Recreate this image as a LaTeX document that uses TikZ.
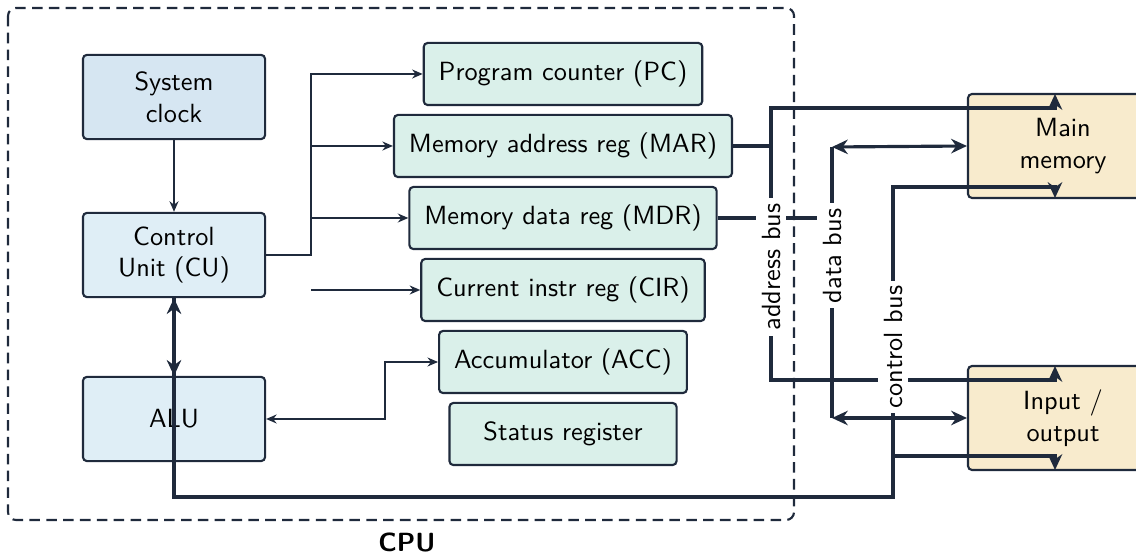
\documentclass[tikz,border=0pt]{standalone}
\usepackage{tikz}
\usepackage{xcolor}
\usetikzlibrary{arrows.meta}
\definecolor{edgec}{HTML}{1F2A3C}
\definecolor{clockfill}{HTML}{D6E6F2}
\definecolor{unitfill}{HTML}{DFEEF6}
\definecolor{regfill}{HTML}{DAF0EA}
\definecolor{memfill}{HTML}{F8EBCD}
\tikzset{every node/.style={font=\sffamily},
 unit/.style={draw=edgec, fill=unitfill, rounded corners=1.5pt, line width=.8pt,
   minimum width=69.2pt, minimum height=32pt, align=center},
 reg/.style={draw=edgec, fill=regfill, rounded corners=1.5pt, line width=.8pt,
   inner xsep=5.7pt, minimum height=23.6pt},
 mem/.style={draw=edgec, fill=memfill, rounded corners=1.5pt, line width=.8pt,
   minimum width=72.2pt, minimum height=39.5pt, align=center},
 wire/.style={draw=edgec, line width=.75pt, -{Stealth[length=4pt,width=3.4pt]}},
 wireboth/.style={wire, {Stealth[length=4pt,width=3.4pt]}-{Stealth[length=4pt,width=3.4pt]}},
 bus/.style={draw=edgec, line width=1.2pt},
 busarrow/.style={bus, -{Stealth[length=6pt,width=5.5pt]}},
 busboth/.style={bus, {Stealth[length=6pt,width=5.5pt]}-{Stealth[length=6pt,width=5.5pt]}},
 buslabel/.style={fill=white, inner sep=2pt, rotate=90},
 }

\begin{document}
\begin{tikzpicture}[x=0.38pt, y=-0.38pt]
        \useasboundingbox (0,0) rectangle (1136,555);
        \draw[edgec, line width=.8pt, dash pattern=on 4pt off 2.4pt, rounded corners=3pt]
            (8,8) rectangle (794,520);
        \node[font=\sffamily\bfseries] (cpu) at (407,543) {CPU};

        \node[unit, fill=clockfill] (clock) at (174,97) {System\\clock};
        \node[unit] (cu) at (174,255) {Control\\Unit (CU)};
        \node[unit] (alu) at (174,419) {ALU};

        \foreach \n/\t [count=\i from 0] in {pc/{Program counter (PC)},
            mar/{Memory address reg (MAR)}, mdr/{Memory data reg (MDR)},
            cir/{Current instr reg (CIR)}, acc/{Accumulator (ACC)}} {
            \node[reg] (\n) at (563, 74+72*\i) {\t};
        }
        \node[reg, minimum width=86.3pt] (sr) at (563,434) {Status register};

        \node[mem] (mm) at (1063,146) {Main\\memory};
        \node[mem] (io) at (1063,418) {Input /\\output};

        \coordinate (split) at (311,255);
        \coordinate (cirin) at (311,290);
        \coordinate (accbend) at (385,419);
        \coordinate (abtop) at (771,108);
        \coordinate (abbot) at (771,380);
        \coordinate (dbtop) at (832,147);
        \coordinate (dbbot) at (832,418);
        \coordinate (cbtop) at (893,187);
        \coordinate (cbio) at (893,456);
        \coordinate (cbcorner) at (174,497);

        \draw[wire] (clock) -- (cu);
        \draw[wire] (cu.east) -- (split) |- (pc.west);
        \draw[wire] (split |- mar.west) -- (mar.west);
        \draw[wire] (split |- mdr.west) -- (mdr.west);
        \draw[wire] (cirin) -- (cir.west);
        \draw[wireboth] (alu.east) -- (accbend) |- (acc.west);

        % address bus
        \draw[bus] (mar.east) -- (abtop |- mar.east);
        \draw[busboth] (1055,94) -- (1055,108) -- (abtop) -- (abbot) -- (1055,380) -- (1055,366);

        % data bus
        \draw[bus] (mdr.east) -- (dbtop |- mdr.east);
        \draw[bus] (dbtop) -- (dbbot);
        \draw[busboth] (dbtop) -- (mm.west);
        \draw[busboth] (dbbot) -- (io.west);

        % control bus
        \draw[busboth] (cu.south) -- (alu.north);
        \draw[busarrow] (cu.south) -- (cbcorner) -| (cbtop) -- (1055,187) -- (1055,198);
        \draw[busarrow] (cbio) -- (1055,456) -- (1055,470);

        \node[buslabel] (ablabel) at (771,267) {address bus};
        \node[buslabel] (dblabel) at (832,256) {data bus};
        \node[buslabel] (cblabel) at (893,347) {control bus};
\end{tikzpicture}
\end{document}
